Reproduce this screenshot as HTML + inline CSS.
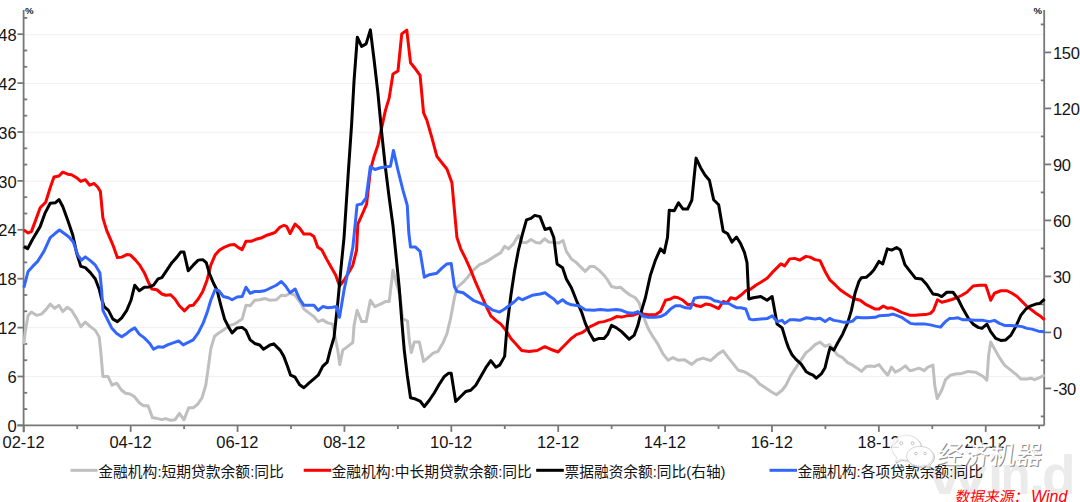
<!DOCTYPE html>
<html><head><meta charset="utf-8"><title>chart</title>
<style>html,body{margin:0;padding:0;background:#fff}body{width:1080px;height:502px;overflow:hidden;font-family:"Liberation Sans",sans-serif}svg{display:block}text{font-family:"Liberation Sans","Noto Sans CJK SC",sans-serif}</style>
</head><body>
<svg width="1080" height="502" viewBox="0 0 1080 502">
<rect width="1080" height="502" fill="#fff"/>
<g id="wm-wind" font-weight="bold" fill="#ebebeb" font-size="55"><text transform="translate(928.5,494) scale(1.12,0.71)">W</text><text x="988" y="494">i</text><text x="1000.5" y="494" textLength="30" lengthAdjust="spacingAndGlyphs">n</text><text x="1029.5" y="494">.</text><text x="1042" y="494">d</text></g>
<g stroke="#f0f0f0" stroke-width="1">
<line x1="23.6" y1="376.47" x2="1044.2" y2="376.47"/>
<line x1="23.6" y1="327.63" x2="1044.2" y2="327.63"/>
<line x1="23.6" y1="278.8" x2="1044.2" y2="278.8"/>
<line x1="23.6" y1="229.96" x2="1044.2" y2="229.96"/>
<line x1="23.6" y1="181.13" x2="1044.2" y2="181.13"/>
<line x1="23.6" y1="132.3" x2="1044.2" y2="132.3"/>
<line x1="23.6" y1="83.46" x2="1044.2" y2="83.46"/>
<line x1="23.6" y1="34.63" x2="1044.2" y2="34.63"/>
</g>
<g stroke="#777777" stroke-width="1.8" fill="none">
<path d="M23.6 10V432.2M17.3 425.4H1044.2M1044.2 10V425.4"/>
<line x1="17.5" y1="425.4" x2="23.6" y2="425.4"/>
<line x1="17.5" y1="376.5" x2="23.6" y2="376.5"/>
<line x1="17.5" y1="327.6" x2="23.6" y2="327.6"/>
<line x1="17.5" y1="278.7" x2="23.6" y2="278.7"/>
<line x1="17.5" y1="229.8" x2="23.6" y2="229.8"/>
<line x1="17.5" y1="180.9" x2="23.6" y2="180.9"/>
<line x1="17.5" y1="132" x2="23.6" y2="132"/>
<line x1="17.5" y1="83.1" x2="23.6" y2="83.1"/>
<line x1="17.5" y1="34.2" x2="23.6" y2="34.2"/>
<line x1="23.6" y1="409.1" x2="27.2" y2="409.1"/>
<line x1="23.6" y1="392.8" x2="27.2" y2="392.8"/>
<line x1="23.6" y1="360.2" x2="27.2" y2="360.2"/>
<line x1="23.6" y1="343.9" x2="27.2" y2="343.9"/>
<line x1="23.6" y1="311.3" x2="27.2" y2="311.3"/>
<line x1="23.6" y1="295" x2="27.2" y2="295"/>
<line x1="23.6" y1="262.4" x2="27.2" y2="262.4"/>
<line x1="23.6" y1="246.1" x2="27.2" y2="246.1"/>
<line x1="23.6" y1="213.5" x2="27.2" y2="213.5"/>
<line x1="23.6" y1="197.2" x2="27.2" y2="197.2"/>
<line x1="23.6" y1="164.6" x2="27.2" y2="164.6"/>
<line x1="23.6" y1="148.3" x2="27.2" y2="148.3"/>
<line x1="23.6" y1="115.7" x2="27.2" y2="115.7"/>
<line x1="23.6" y1="99.4" x2="27.2" y2="99.4"/>
<line x1="23.6" y1="66.8" x2="27.2" y2="66.8"/>
<line x1="23.6" y1="50.5" x2="27.2" y2="50.5"/>
<line x1="23.6" y1="17.9" x2="27.2" y2="17.9"/>
<line x1="1044.2" y1="388.4" x2="1051.2" y2="388.4"/>
<line x1="1044.2" y1="332.4" x2="1051.2" y2="332.4"/>
<line x1="1044.2" y1="276.4" x2="1051.2" y2="276.4"/>
<line x1="1044.2" y1="220.4" x2="1051.2" y2="220.4"/>
<line x1="1044.2" y1="164.4" x2="1051.2" y2="164.4"/>
<line x1="1044.2" y1="108.4" x2="1051.2" y2="108.4"/>
<line x1="1044.2" y1="52.4" x2="1051.2" y2="52.4"/>
<line x1="1040.8" y1="416.4" x2="1044.2" y2="416.4"/>
<line x1="1040.8" y1="360.4" x2="1044.2" y2="360.4"/>
<line x1="1040.8" y1="304.4" x2="1044.2" y2="304.4"/>
<line x1="1040.8" y1="248.4" x2="1044.2" y2="248.4"/>
<line x1="1040.8" y1="192.4" x2="1044.2" y2="192.4"/>
<line x1="1040.8" y1="136.4" x2="1044.2" y2="136.4"/>
<line x1="1040.8" y1="80.4" x2="1044.2" y2="80.4"/>
<line x1="1040.8" y1="24.4" x2="1044.2" y2="24.4"/>
<line x1="23.8" y1="425.4" x2="23.8" y2="431.9"/>
<line x1="130.68" y1="425.4" x2="130.68" y2="431.9"/>
<line x1="237.56" y1="425.4" x2="237.56" y2="431.9"/>
<line x1="344.44" y1="425.4" x2="344.44" y2="431.9"/>
<line x1="451.32" y1="425.4" x2="451.32" y2="431.9"/>
<line x1="558.2" y1="425.4" x2="558.2" y2="431.9"/>
<line x1="665.08" y1="425.4" x2="665.08" y2="431.9"/>
<line x1="771.96" y1="425.4" x2="771.96" y2="431.9"/>
<line x1="878.84" y1="425.4" x2="878.84" y2="431.9"/>
<line x1="985.72" y1="425.4" x2="985.72" y2="431.9"/>
<line x1="77.24" y1="425.4" x2="77.24" y2="429"/>
<line x1="184.12" y1="425.4" x2="184.12" y2="429"/>
<line x1="291" y1="425.4" x2="291" y2="429"/>
<line x1="397.88" y1="425.4" x2="397.88" y2="429"/>
<line x1="504.76" y1="425.4" x2="504.76" y2="429"/>
<line x1="611.64" y1="425.4" x2="611.64" y2="429"/>
<line x1="718.52" y1="425.4" x2="718.52" y2="429"/>
<line x1="825.4" y1="425.4" x2="825.4" y2="429"/>
<line x1="932.28" y1="425.4" x2="932.28" y2="429"/>
<line x1="1039.16" y1="425.4" x2="1039.16" y2="429"/>
</g>
<g fill="none" stroke-width="3" stroke-linejoin="round" stroke-linecap="butt">
<polyline stroke="#bfbfbf" points="23.84,344.2 25.09,332.9 28.11,315.34 31.37,312.08 36.39,315.34 41.41,314.08 46.42,309.07 50.19,304.05 54.71,308.31 58.97,305.3 62.74,311.57 67.25,307.31 71.52,310.32 76.54,318.35 80.8,326.63 85.32,322.11 90.34,326.63 95.36,330.4 99.12,336.67 100.88,352.6 102.89,376.44 107.9,376.44 112.17,385.23 116.69,383.22 121.2,389.74 125.47,393.26 129.99,394.01 134.25,396.52 139.27,402.79 143.54,405.8 148.06,405.8 152.57,417.85 156.84,418.35 161.86,419.6 165.62,418.6 170.64,420.36 174.91,419.86 179.42,413.33 183.94,419.86 188.71,407.81 193.22,407.81 197.74,404.05 202.01,397.77 205.77,385.23 208.28,367.66 210.79,348.84 214.55,336.29 219.57,332.4 224.59,329.14 229.61,325.38 234.63,324.12 238.39,321.61 242.16,319.1 245.92,305.3 250.19,305.8 254.71,300.28 259.72,299.78 264.74,298.53 270.01,300.28 276.27,299.78 281.29,295.26 285.56,295.77 290.08,293.26 295.09,295.26 299.61,301.54 303.88,309.07 308.9,312.83 313.91,316.59 318.18,321.61 322.7,319.86 327.72,322.87 332.74,324.12 335.75,340.43 337.75,350.09 339.76,364.65 342.77,350.09 347.79,346.33 352.81,342.57 354.07,325.38 357.08,310.32 361.59,321.61 366.11,321.61 370.38,300.28 374.89,306.56 380.41,304.05 385.43,301.54 389.2,301.54 392.96,270.17 397,285 400,296 402.5,318.5 407.5,321 409.27,340.06 411.28,352.6 414.29,342.06 419.31,342.06 423.58,361.39 428.09,357.62 433.11,353.11 438.13,351.35 443.15,342.57 446.91,333.78 450.68,317.85 454.44,297.77 456.95,287.74 463.22,282.21 468.24,276.44 473.26,270.17 479.54,264.65 484.55,262.64 490.83,258.88 495.85,255.61 500.87,252.6 504.63,246.33 508.39,248.84 513.41,243.82 518.43,235.54 522.2,242.57 526.46,242.57 530.98,239.55 536,242.57 540.01,243.07 544.52,238.8 548.78,242.06 553.8,242.57 558.82,243.07 563.09,240.56 566.35,251.35 571.37,258.88 576.39,262.64 585.17,271.42 590.19,266.41 593.95,266.41 598.97,270.17 603.99,275.19 607.75,280.21 611.52,286.48 616.54,287.74 620.3,287.23 625.32,291.5 630.34,295.26 635.36,297.77 639.12,302.79 642.89,315.34 647.9,327.89 652.92,336.67 657.94,344.2 662.96,353.86 667.98,360.13 673,357.62 678.02,360.13 684.29,359.63 691.82,364.4 696.84,360.13 703.11,358.12 710.64,360.63 718.17,353.86 723.19,350.85 728.21,357.62 733.22,363.9 738.24,370.17 743.26,371.42 748.28,373.93 754.55,378.2 759.57,383.97 764.59,387.23 770.87,391.5 776.39,394.76 782.16,390.24 785.92,385.23 790.94,375.19 795.96,367.66 800.98,360.13 806,352.6 810.01,349.59 815.02,344.57 820.04,342.06 825.06,346.33 829.57,344.57 833.84,350.09 837.6,355.11 842.62,357.62 847.64,362.64 852.66,365.15 856.42,367.66 861.44,371.42 866.46,366.41 870.23,365.9 874.74,366.41 879.01,364.65 883.27,370.17 887.79,375.19 891.56,367.16 895.32,372.18 900.34,369.67 905.36,365.9 909.87,370.67 914.14,369.67 919.16,368.16 924.18,370.67 927.94,367.16 932.96,365.15 934.72,385.23 937.23,398.53 941.74,390.24 945.51,379.71 950.53,375.19 955.55,373.93 961.82,373.43 968.09,371.42 975.62,372.18 983.15,376.44 986.91,380.21 988.67,355.11 990.68,342.06 994.44,348.84 999.46,357.62 1004.48,365.15 1010.75,370.17 1017.03,375.19 1020.79,378.95 1027.06,378.95 1030.83,378.2 1034.59,379.71 1039.61,377.7 1044.63,374.69"/>
<polyline stroke="#ff0000" points="23.84,229.89 28.11,232.9 31.37,231.65 35.13,221.61 40.15,207.81 45.67,202.29 50.19,187.74 53.95,176.94 58.97,175.94 62.74,172.18 67.75,174.18 71.52,174.69 76.54,177.7 80.8,181.46 85.32,179.71 89.84,185.23 94.1,183.47 97.87,187.23 100.38,191.5 102.89,217.85 106.65,230.4 110.41,239.18 112.92,245.08 117.44,257.62 121.71,257.12 126.73,254.61 130.49,255.11 135.51,260.13 139.77,265.15 144.29,272.68 148.06,281.46 151.82,288.99 156.84,289.74 161.86,294.01 165.62,295.26 170.64,294.76 174.91,299.03 179.42,305.8 184.44,310.82 189.46,305.8 193.22,305.3 198.24,299.03 202.76,291.5 207.03,280.21 210.79,265.15 215.06,255.11 219.57,250.09 224.59,247.08 229.61,245.08 234.63,244.57 238.39,247.58 242.16,249.59 245.92,241.31 250.94,241.31 255.96,239.3 260.98,238.05 266,235.54 270.01,234.28 275.02,232.53 280.04,227.01 284.05,225.25 286.81,226.51 290.08,233.53 295.09,224 299.61,228.01 303.88,234.03 310.15,234.03 313.91,236.54 317.68,247.08 321.94,250.09 326.46,258.88 331.48,267.66 335.75,275.19 339.51,285.98 344.03,280.21 348.29,273.18 352.81,265.15 356.57,250.09 357.83,224.18 362.85,212.89 366.61,204.1 370.38,170.23 374.14,156.42 377.9,145.13 381.67,127.57 385.43,110.41 389.2,97.87 392.96,74.03 397.98,71.02 401.74,33.88 406.76,30.11 410.53,62.74 415.55,69.01 420.06,75.28 423.58,112.92 426.84,120.04 431.86,137.6 436.88,156.42 441.89,162.7 446.91,168.97 451.93,182.77 454.44,210.38 456.95,237.55 460.72,248.84 465.73,258.88 470.75,270.17 475.77,282.72 480.79,294.01 485.81,305.3 490.83,315.84 495.85,320.36 500.87,324.12 505.88,330.4 510.9,338.43 515.92,343.95 521.69,350.47 528.97,351.47 537.25,350.47 544.77,346.71 550.54,349.22 558.07,351.98 562.08,347.71 566.35,343.44 571.37,338.43 576.39,334.66 581.41,332.9 585.17,330.4 590.19,326.63 593.95,324.87 598.97,322.37 603.99,321.61 607.75,320.36 611.52,319.1 616.54,316.59 621.56,317.1 626.57,315.84 632.85,315.34 637.87,313.33 642.89,314.08 647.9,314.84 655.43,314.84 660.45,311.57 665.47,300.28 670.49,299.03 674.25,297.02 678.02,297.77 683.04,300.28 688.06,304.8 693.07,304.05 696.84,305.8 700.6,306.56 705.62,304.05 710.64,304.8 714.4,306.56 718.67,308.56 723.19,301.54 726.95,302.79 730.72,297.77 735.73,299.03 740.75,295.26 745.77,290.75 750.79,288.99 755.81,285.23 760.83,282.21 767.1,278.2 772.12,272.68 777.14,267.66 780.9,263.9 784.67,265.9 789.69,258.88 794.71,258.38 799.72,260.13 806,256.37 810.01,257.12 815.02,259.63 820.04,260.63 825.06,271.42 830.08,280.21 835.09,284.72 840.11,289.74 845.13,293.26 850.15,296.52 855.17,299.03 860.19,300.28 865.21,304.05 870.23,306.56 875.24,309.07 879.01,309.07 883.27,306.05 887.79,308.31 891.56,307.81 896.57,309.82 901.59,312.33 906.61,314.08 910.38,315.34 915.4,315.34 920.41,314.84 925.43,314.59 930.45,313.33 933.46,310.32 937.48,299.78 941.74,302.29 946.76,301.04 951.78,299.53 956.8,297.77 961.82,295.26 966.84,292.25 973.11,285.98 979.39,285.23 985.66,285.23 987.67,290.75 990.68,300.28 994.44,293.26 1000.72,290.75 1006.99,290.75 1012.01,293.26 1017.03,296.52 1022.05,301.54 1027.06,306.56 1032.08,310.32 1037.1,314.08 1040.87,316.59 1044.63,319.86"/>
<polyline stroke="#000000" points="23.84,246.71 27.6,248.71 32.62,239.18 40.15,226.63 45.17,212.83 50.19,203.29 55.21,202.79 58.97,199.53 62.74,206.56 67.75,220.36 72.77,235.04 76.54,252.6 80.8,266.41 85.32,267.66 90.34,272.68 95.36,278.95 99.12,288.99 101.63,299.03 104.14,306.56 108.41,310.32 112.92,319.1 117.44,321.61 121.71,317.85 126.73,310.32 130.99,300.28 134.76,285.23 139.27,290.75 144.29,287.23 149.31,286.98 153.58,285.23 158.09,278.95 161.86,277.7 166.88,270.17 171.89,262.64 176.91,257.12 180.68,252.1 183.94,252.1 188.21,270.67 193.22,265.15 198.24,260.13 202.76,259.63 206.27,262.64 209.54,273.93 213.3,282.72 217.06,290.24 220.83,305.3 224.59,319.1 228.36,326.63 232.12,332.9 237.14,327.89 242.16,327.38 245.92,330.4 250.19,339.93 254.71,343.44 259.72,344.95 263.49,349.22 270.01,344.95 273.76,343.82 280.04,350.09 283.8,356.37 287.57,366.41 290.58,375.19 295.09,377.2 299.61,384.72 303.88,387.74 308.9,383.22 313.91,378.95 318.18,375.19 322.7,366.41 327.21,362.14 330.23,350.09 333.99,337.55 337.75,302.79 341.52,262.64 344.03,237.55 348.29,172.74 351.56,125.06 354.07,80.3 357.33,37.14 361.59,46.42 366.11,43.91 370.38,29.86 374.14,60.23 377.9,92.85 381.67,132.58 385.43,167.72 389.2,197.83 392.96,225.43 395.47,250.09 399.23,287.74 401.74,320.36 404.25,350.09 407.26,375.19 410.53,397.77 415.55,399.03 420.06,401.04 424.33,406.56 429.35,400.28 434.37,392.75 439.39,383.97 444.4,376.44 448.67,373.18 451.18,373.18 455.7,401.54 460.72,396.52 465.73,391.5 470.75,390.24 475.77,385.23 480.79,376.44 485.81,367.66 490.83,360.63 495.85,367.16 499.61,365.15 504.63,356.37 507.14,325.38 510.9,295.26 514.67,270.17 518.43,250.09 522.2,235.04 526.46,219.91 530.98,218.41 534.74,215.4 540.01,216.65 545.02,229.52 550.04,228.01 553.8,237.55 557.06,263.9 562.58,267.66 566.35,278.95 571.37,287.74 576.39,300.28 581.41,311.57 585.17,322.87 588.93,331.65 593.95,340.43 598.97,338.43 603.99,338.43 607.75,334.16 611.52,325.38 616.54,327.89 621.56,331.65 625.32,335.41 629.08,339.18 634.1,335.41 637.87,325.38 641.63,310.32 645.4,297.77 650.41,275.19 655.43,260.13 660.45,248.84 664.22,252.6 667.48,237.55 669.23,210.32 674.25,210.82 678.52,202.79 683.04,209.07 687.55,209.07 691.82,200.28 694.33,175.19 696.09,158.12 700.6,167.66 705.12,175.19 709.39,180.21 713.65,199.78 718.67,204.8 723.19,231.15 727.7,233.78 731.97,242.06 736.49,237.05 740.75,243.82 744.52,252.6 747.03,262.64 748.78,299.03 753.3,297.77 760.83,296.52 767.1,300.28 772.12,296.52 777.14,324.12 782.16,327.89 785.92,340.43 788.43,347.58 792.2,355.11 795.96,359.38 800.98,363.9 806,371.42 810.01,373.93 813.01,375.19 816.27,378.2 821.29,373.93 825.06,367.66 828.07,355.11 830.08,347.58 833.84,350.09 837.6,342.94 842.62,334.16 847.64,322.87 851.41,310.32 855.17,292.75 858.93,281.46 861.44,277.7 866.46,277.2 870.23,273.93 873.99,269.67 879.01,261.39 882.77,263.9 887.29,248.84 891.56,250.09 896.57,247.58 900.34,250.09 904.86,264.65 909.12,270.17 915.4,278.2 921.67,278.95 926.69,284.47 932.96,294.01 937.98,294.76 941.74,296.52 946.76,292.25 953.04,292.25 958.06,299.03 963.07,309.07 968.09,317.85 973.11,324.12 978.13,327.38 981.89,328.39 986.91,324.12 990.68,331.65 995.7,338.43 1000.72,340.43 1005.73,339.93 1010.75,335.41 1015.77,326.63 1020.79,315.34 1025.81,309.07 1030.83,305.8 1035.85,304.05 1039.61,303.54 1044.63,299.03"/>
<polyline stroke="#3366ff" points="23.84,287.74 28.11,271.42 32.62,266.41 37.64,261.39 43.91,251.35 50.19,237.55 54.71,233.78 59.47,230.02 63.99,233.28 69.01,237.05 73.27,242.06 77.79,255.11 81.56,260.13 85.32,256.87 90.34,260.63 95.36,265.15 99.87,272.68 101.63,290.24 102.89,310.32 106.65,317.85 111.67,327.89 116.69,333.41 121.71,336.67 126.73,333.41 130.49,330.4 134.76,327.89 139.27,334.16 144.29,337.92 149.31,342.94 153.58,349.22 158.09,346.71 163.11,347.21 168.13,344.7 173.15,342.94 178.67,340.93 183.19,344.95 188.21,342.44 193.22,339.93 198.24,332.9 203.26,322.87 207.03,312.83 210.79,300.28 215.06,289.74 218.82,290.75 223.34,296.52 228.36,297.77 232.12,299.78 237.14,297.02 242.16,296.52 245.92,287.23 250.19,293.26 254.71,291.5 259.72,291.5 264.74,290.75 270.01,288.24 276.27,285.23 281.29,281.46 285.56,285.98 290.08,292.75 295.09,288.99 299.61,299.03 303.88,305.3 308.9,305.3 313.91,305.3 318.18,310.32 322.7,306.56 327.72,307.81 332.74,307.31 336.5,306.56 339.51,317.35 344.03,290.24 348.29,270.17 352.81,247.58 355.32,222.92 357.08,204.86 361.59,204.1 366.11,197.83 370.38,166.46 374.89,169.47 380.41,167.72 390.45,166.21 393.46,150.4 397.98,170.23 403,190.3 407.26,205.36 408.77,232.53 410.53,247.08 415.55,247.08 420.06,251.35 424.33,277.2 429.35,274.69 436.88,273.18 441.89,268.16 446.91,263.9 451.18,263.39 454.44,286.48 456.95,291.5 463.22,292.75 468.24,296.52 473.26,300.28 479.54,302.79 485.81,305.3 492.08,309.82 499.61,312.08 504.63,309.07 509.65,305.3 514.67,301.54 518.43,297.77 522.2,299.78 526.46,297.77 532.23,295.26 540.01,294.01 545.02,292.75 550.04,296.52 553.8,299.03 557.57,303.29 562.58,299.78 566.35,302.79 571.37,304.8 578.9,305.8 585.17,309.82 593.95,310.32 600.23,309.57 607.75,310.32 616.54,309.57 621.56,310.32 627.83,312.83 632.85,313.33 637.87,311.57 642.89,315.84 647.9,317.35 655.43,317.35 660.45,316.59 665.47,314.08 670.49,309.07 675.51,305.8 680.53,305.8 685.55,307.81 690.56,308.31 694.33,298.27 699.35,297.27 705.62,297.27 710.64,298.27 714.4,300.78 718.67,301.54 723.19,303.29 728.21,303.29 731.97,305.3 736.99,307.81 740.75,307.81 745.77,309.07 749.54,319.1 753.3,319.86 760.83,319.1 767.1,318.6 772.12,315.84 777.14,321.61 782.16,320.36 784.67,323.37 789.69,319.86 794.71,319.86 799.72,320.36 806,317.85 810.01,318.35 815.02,319.1 820.04,318.35 825.06,321.61 829.57,318.35 833.84,320.36 838.86,321.11 843.88,322.37 848.9,322.11 852.66,321.11 856.42,317.35 861.44,317.85 867.72,317.85 875.24,317.35 879.01,315.84 887.79,315.34 892.81,314.08 896.57,315.34 901.59,317.35 906.61,320.86 910.38,323.37 915.4,324.12 920.41,324.12 925.43,324.12 930.45,324.87 935.47,326.13 940.49,327.13 945.51,321.61 949.27,318.6 954.29,318.35 958.06,317.85 963.07,319.86 968.09,319.86 975.62,320.36 983.15,320.36 989.42,321.61 994.44,320.36 999.46,323.37 1004.48,325.38 1010.75,325.38 1017.03,325.88 1022.05,326.63 1027.06,328.39 1032.08,329.14 1038.36,331.15 1044.63,331.65"/>
</g>
<g font-size="16.5" fill="#141414">
<text x="16.6" y="432" text-anchor="end">0</text>
<text x="16.6" y="383.1" text-anchor="end">6</text>
<text x="16.6" y="334.2" text-anchor="end">12</text>
<text x="16.6" y="285.3" text-anchor="end">18</text>
<text x="16.6" y="236.4" text-anchor="end">24</text>
<text x="16.6" y="187.5" text-anchor="end">30</text>
<text x="16.6" y="138.6" text-anchor="end">36</text>
<text x="16.6" y="89.7" text-anchor="end">42</text>
<text x="16.6" y="40.8" text-anchor="end">48</text>
<text x="1053" y="395.1" letter-spacing="-0.35">-30</text>
<text x="1053" y="339.1" letter-spacing="-0.35">0</text>
<text x="1053" y="283.1" letter-spacing="-0.35">30</text>
<text x="1053" y="227.1" letter-spacing="-0.35">60</text>
<text x="1053" y="171.1" letter-spacing="-0.35">90</text>
<text x="1053" y="115.1" letter-spacing="-0.35">120</text>
<text x="1053" y="59.1" letter-spacing="-0.35">150</text>
<text x="23.6" y="448.4" text-anchor="middle">02-12</text>
<text x="130.48" y="448.4" text-anchor="middle">04-12</text>
<text x="237.36" y="448.4" text-anchor="middle">06-12</text>
<text x="344.24" y="448.4" text-anchor="middle">08-12</text>
<text x="451.12" y="448.4" text-anchor="middle">10-12</text>
<text x="558" y="448.4" text-anchor="middle">12-12</text>
<text x="664.88" y="448.4" text-anchor="middle">14-12</text>
<text x="771.76" y="448.4" text-anchor="middle">16-12</text>
<text x="878.64" y="448.4" text-anchor="middle">18-12</text>
<text x="985.52" y="448.4" text-anchor="middle">20-12</text>
</g>
<g font-size="9.6" font-weight="bold" fill="#10162c"><text x="25" y="13.9">%</text><text x="1033.6" y="13.9">%</text></g>
<g id="legend">
<g><title>金融机构:短期贷款余额:同比</title>
<line x1="70.5" y1="470.3" x2="97.5" y2="470.3" stroke="#bfbfbf" stroke-width="3"/>
<text x="98.3" y="477" font-size="14.8" fill="#141414" textLength="185.5" lengthAdjust="spacingAndGlyphs">金融机构:短期贷款余额:同比</text>
</g>
<g><title>金融机构:中长期贷款余额:同比</title>
<line x1="303.7" y1="470.3" x2="331.2" y2="470.3" stroke="#ff0000" stroke-width="3"/>
<text x="331.5" y="477" font-size="14.8" fill="#141414" textLength="200.4" lengthAdjust="spacingAndGlyphs">金融机构:中长期贷款余额:同比</text>
</g>
<g><title>票据融资余额:同比(右轴)</title>
<line x1="536.2" y1="470.3" x2="563.8" y2="470.3" stroke="#000000" stroke-width="3"/>
<text x="564.5" y="477" font-size="14.8" fill="#141414" textLength="161" lengthAdjust="spacingAndGlyphs">票据融资余额:同比(右轴)</text>
</g>
<g><title>金融机构:各项贷款余额:同比</title>
<line x1="769.5" y1="470.3" x2="797.0" y2="470.3" stroke="#3366ff" stroke-width="3"/>
<text x="797.5" y="477" font-size="14.8" fill="#141414" textLength="185.5" lengthAdjust="spacingAndGlyphs">金融机构:各项贷款余额:同比</text>
</g>
</g>
<g id="wm"><title>经济机器</title>
<path d="M906.2 435c8.1 0 14.6 5.6 14.6 12.5s-6.5 12.5-14.6 12.5c-1.9 0-3.7-.3-5.4-.9l-5.6 3.2 1.5-5.2c-3.1-2.3-5.1-5.7-5.1-9.6 0-6.9 6.500-12.5 14.6-12.500z" transform="translate(1,1)" fill="none" stroke="#bdbdbd" stroke-width="1"/>
<path d="M906.2 435c8.1 0 14.6 5.6 14.6 12.5s-6.5 12.5-14.6 12.5c-1.9 0-3.7-.3-5.4-.9l-5.6 3.2 1.5-5.2c-3.1-2.3-5.1-5.7-5.1-9.6 0-6.9 6.500-12.5 14.6-12.500z" fill="#fff" fill-opacity="0.86" stroke="#d8d8d8" stroke-width="0.6"/>
<g fill="#fff" stroke="#b8b8b8" stroke-width="0.8"><circle cx="901.3" cy="443.2" r="1.5"/><circle cx="912.6" cy="443.2" r="1.5"/></g>
<path d="M920 446.300c7.400 0 13.400 4.400 13.400 9.900 0 3.100-1.900 5.800-4.800 7.600l1.300 4.200-4.700-2.600c-1.600.5-3.400.7-5.200.7-7.400 0-13.400-4.400-13.400-9.900s6-9.900 13.400-9.900z" transform="translate(1,1.2)" fill="none" stroke="#bdbdbd" stroke-width="1"/>
<path d="M920 446.300c7.400 0 13.400 4.400 13.400 9.900 0 3.100-1.900 5.800-4.800 7.600l1.300 4.200-4.700-2.600c-1.600.5-3.400.7-5.200.7-7.400 0-13.400-4.400-13.400-9.900s6-9.900 13.400-9.900z" fill="#fff" fill-opacity="0.9" stroke="#cfcfcf" stroke-width="0.9"/>
<g fill="#fff" stroke="#b8b8b8" stroke-width="0.8"><circle cx="915.9" cy="453.5" r="1.3"/><circle cx="925.1" cy="453.5" r="1.3"/></g>
<text transform="translate(937.1,464.6) skewX(-7.3)" font-size="26.2" fill="#8a8a8a" textLength="105" lengthAdjust="spacingAndGlyphs">经济机器</text>
<text transform="translate(936,463.5) skewX(-7.3)" font-size="26.2" fill="#ffffff" textLength="105" lengthAdjust="spacingAndGlyphs">经济机器</text>
</g>
<g id="src"><title>数据来源：Wind</title>
<text transform="translate(954.4,501.8) skewX(-11.3)" font-size="14.8" fill="#ff0000" textLength="74" lengthAdjust="spacingAndGlyphs">数据来源：</text>
<text x="1031" y="501.6" font-size="16" font-style="italic" fill="#ff0000">Wind</text></g>
</svg></body></html>
